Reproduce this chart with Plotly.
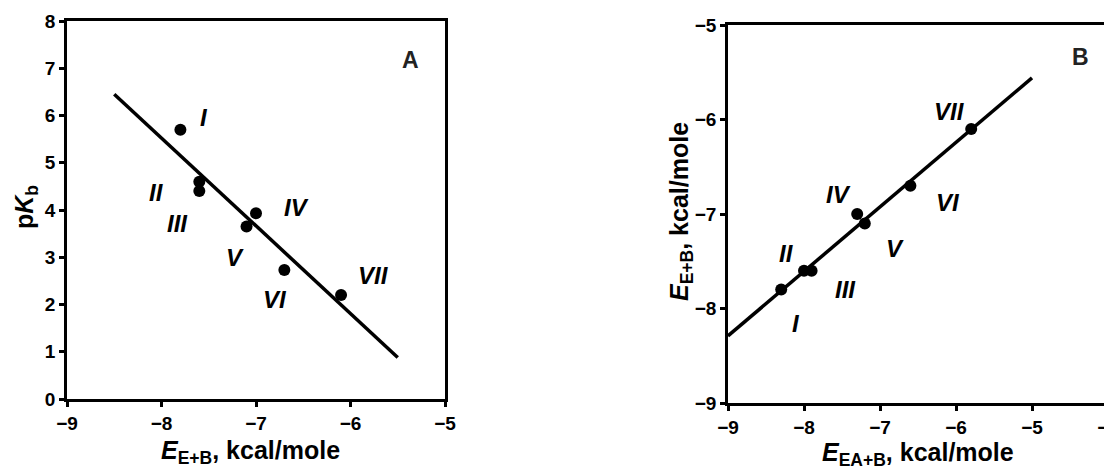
import plotly.graph_objects as go

# Panel A data
a_x = [-7.8, -7.6, -7.6, -7.0, -7.1, -6.7, -6.1]
a_y = [5.7, 4.6, 4.4, 3.93, 3.65, 2.73, 2.2]
a_fit_x = [-8.5, -5.5]
a_fit_y = [6.45, 0.88]
a_lab = ["I", "II", "III", "IV", "V", "VI", "VII"]
a_lab_x = [-7.55, -8.05, -7.83, -6.57, -7.22, -6.80, -5.76]
a_lab_y = [5.95, 4.36, 3.72, 4.06, 3.0, 2.1, 2.62]
a_xticks = [-9, -8, -7, -6, -5]
a_yticks = [0, 1, 2, 3, 4, 5, 6, 7, 8]

# Panel B data
b_x = [-8.3, -8.0, -7.9, -7.3, -7.2, -6.6, -5.8]
b_y = [-7.8, -7.6, -7.6, -7.0, -7.1, -6.7, -6.1]
b_fit_x = [-9.0, -5.0]
b_fit_y = [-8.29, -5.56]
b_lab = ["I", "II", "III", "IV", "V", "VI", "VII"]
b_lab_x = [-8.1, -8.23, -7.46, -7.54, -6.80, -6.10, -6.09]
b_lab_y = [-8.16, -7.42, -7.80, -6.79, -7.36, -6.88, -5.91]
b_xticks = [-9, -8, -7, -6, -5, -4]
b_yticks = [-9, -8, -7, -6, -5]

# page has an 8px body margin; figure sized to fill the rest of the 1112x472 window
OFF = 8
W, H = 1112 - OFF, 472 - OFF
FONT = "Liberation Sans, Arial, sans-serif"


def px(x):
    return (x - OFF) / W


def py(y):
    return 1 - (y - OFF) / H


def tt(vals):
    return ["<b>" + str(v).replace("-", "\u2212") + "</b>" for v in vals]


fig = go.Figure()
fig.add_trace(go.Scatter(x=a_fit_x, y=a_fit_y, mode="lines", line=dict(color="black", width=3.5),
                         xaxis="x", yaxis="y", showlegend=False))
fig.add_trace(go.Scatter(x=a_x, y=a_y, mode="markers", marker=dict(color="black", size=12),
                         xaxis="x", yaxis="y", showlegend=False))
fig.add_trace(go.Scatter(x=b_fit_x, y=b_fit_y, mode="lines", line=dict(color="black", width=3.5),
                         xaxis="x2", yaxis="y2", showlegend=False))
fig.add_trace(go.Scatter(x=b_x, y=b_y, mode="markers", marker=dict(color="black", size=12),
                         xaxis="x2", yaxis="y2", showlegend=False))

axis_common = dict(showgrid=False, zeroline=False, showline=True, linecolor="black", linewidth=2.5,
                   mirror=True, ticks="outside", ticklen=5, tickwidth=2.5, tickcolor="black",
                   tickfont=dict(family=FONT, size=19, color="black"),
                   ticklabeloverflow="allow", automargin=False, fixedrange=True)

fig.update_layout(
    width=W, height=H, margin=dict(l=0, r=0, t=0, b=0),
    paper_bgcolor="white", plot_bgcolor="white",
    xaxis=dict(domain=[px(67), px(445)], range=[-9, -5], tickvals=a_xticks, ticktext=tt(a_xticks),
               anchor="y", **axis_common),
    yaxis=dict(domain=[py(399), py(21)], range=[0, 8], tickvals=a_yticks, ticktext=tt(a_yticks),
               anchor="x", **axis_common),
    xaxis2=dict(domain=[px(728), px(1108)], range=[-9, -4], tickvals=b_xticks, ticktext=tt(b_xticks),
                anchor="y2", **axis_common),
    yaxis2=dict(domain=[py(403), py(25)], range=[-9, -5], tickvals=b_yticks, ticktext=tt(b_yticks),
                anchor="x2", **axis_common),
)

ann = []
numfont = dict(family=FONT, size=24, color="black")
for t, x, y in zip(a_lab, a_lab_x, a_lab_y):
    ann.append(dict(text="<b><i>" + t + "</i></b>", x=x, y=y, xref="x", yref="y", showarrow=False, font=numfont))
for t, x, y in zip(b_lab, b_lab_x, b_lab_y):
    ann.append(dict(text="<b><i>" + t + "</i></b>", x=x, y=y, xref="x2", yref="y2", showarrow=False, font=numfont))

bigfont = dict(family=FONT, size=23, color="#222222")
ann.append(dict(text="<b>A</b>", x=-5.36, y=7.17, xref="x", yref="y", showarrow=False, font=bigfont))
ann.append(dict(text="<b>B</b>", x=-4.36, y=-5.34, xref="x2", yref="y2", showarrow=False, font=bigfont))

titlefont = dict(family=FONT, size=25, color="black")
ann.append(dict(text="<b><i>E</i><sub>E+B</sub>, kcal/mole</b>", x=px(250), y=py(452), xref="paper", yref="paper",
                showarrow=False, font=titlefont, xanchor="center", yanchor="middle"))
ann.append(dict(text="<b><i>E</i><sub>EA+B</sub>, kcal/mole</b>", x=px(918), y=py(454), xref="paper", yref="paper",
                showarrow=False, font=titlefont, xanchor="center", yanchor="middle"))
ann.append(dict(text="<b>p<i>K</i><sub>b</sub></b>", x=px(26), y=py(207), xref="paper", yref="paper",
                showarrow=False, font=titlefont, textangle=-90, xanchor="center", yanchor="middle"))
ann.append(dict(text="<b><i>E</i><sub>E+B</sub>, kcal/mole</b>", x=px(681), y=py(212), xref="paper", yref="paper",
                showarrow=False, font=titlefont, textangle=-90, xanchor="center", yanchor="middle"))

fig.update_layout(annotations=ann)
fig.write_html("out.html")
